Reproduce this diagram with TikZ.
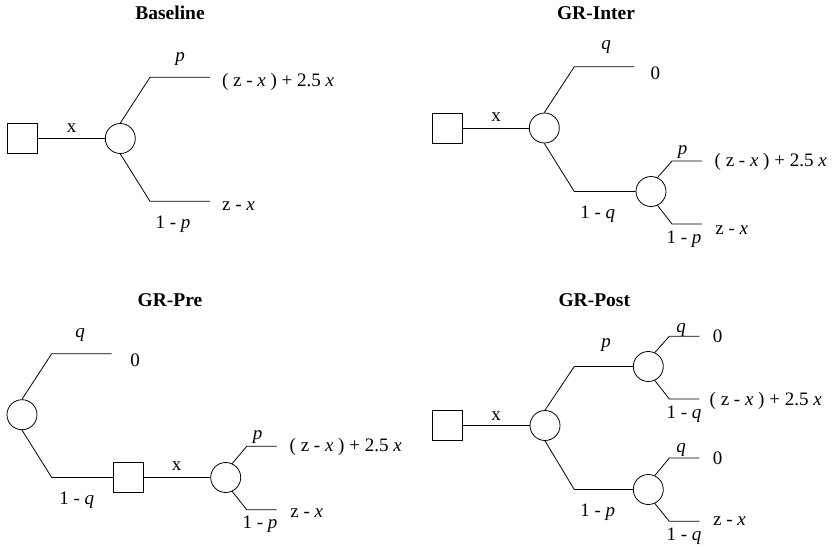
\documentclass[tikz,border=0pt]{standalone}
\usepackage{fontspec}
\setmainfont{Liberation Serif}
\begin{document}
\begin{tikzpicture}[x=1pt,y=-1pt,line width=0.8pt,
  dec/.style={draw,rectangle,minimum size=30pt,inner sep=0pt},
  chance/.style={draw,circle,minimum size=30pt,inner sep=0pt},
  lbl/.style={font=\fontsize{19}{22}\selectfont,inner sep=0pt},
  blbl/.style={lbl,anchor=base},
  pay/.style={lbl,anchor=west},
  ttl/.style={font=\bfseries\fontsize{19.5}{22}\selectfont,inner sep=0pt}]
\useasboundingbox (0,0) rectangle (832,546);
% ---------- Baseline ----------
\node[ttl] (tb) at (170,13) {Baseline};
\node[dec] (b0) at (22.5,138.5) {};
\node[chance] (b1) at (120.3,138.5) {};
\coordinate (bu) at (150,77.3); \coordinate (bue) at (210,77.3);
\coordinate (bl) at (150,201.3); \coordinate (ble) at (210,201.3);
\draw (b0) -- (b1);
\draw (b1.north) -- (bu) -- (bue);
\draw (b1.south) -- (bl) -- (ble);
\node[lbl] (bx) at (71.7,127.7) {x};
\node[lbl] (bp) at (180,59.3) {\textit{p}};
\node[blbl] (bnp) at (173,228.3) {1 - \textit{p}};
\node[pay] (bpay1) at (221.7,81.7) {( z - \textit{x} ) + 2.5 \textit{x}};
\node[pay] (bpay2) at (221.7,206) {z - \textit{x}};
% ---------- GR-Inter ----------
\node[ttl] (ti) at (596,13) {GR-Inter};
\node[dec] (i0) at (447.7,128) {};
\node[chance] (i1) at (544.3,128) {};
\node[chance] (i2) at (651,191.5) {};
\coordinate (iu) at (574.3,66.7); \coordinate (iue) at (634.3,66.7);
\coordinate (il) at (574.3,191.5);
\coordinate (i2u) at (672,161); \coordinate (i2ue) at (702,161);
\coordinate (i2l) at (672,224); \coordinate (i2le) at (702,224);
\draw (i0) -- (i1);
\draw (i1.north) -- (iu) -- (iue);
\draw (i1.south) -- (il) -- (i2);
\draw (i2.65) -- (i2u) -- (i2ue);
\draw (i2.-65) -- (i2l) -- (i2le);
\node[lbl] (ix) at (496,116.7) {x};
\node[lbl] (iq) at (606,46.7) {\textit{q}};
\node[lbl] (i0v) at (655.3,73.3) {0};
\node[blbl] (inq) at (597.7,218.5) {1 - \textit{q}};
\node[lbl] (ip) at (682.7,151.7) {\textit{p}};
\node[blbl] (inp) at (684,243) {1 - \textit{p}};
\node[pay] (ipay1) at (714.3,161.7) {( z - \textit{x} ) + 2.5 \textit{x}};
\node[pay] (ipay2) at (715,230) {z - \textit{x}};
% ---------- GR-Pre ----------
\node[ttl] (tr) at (170,299.7) {GR-Pre};
\node[chance] (r1) at (22,414.7) {};
\node[dec] (r0) at (128.7,477.5) {};
\node[chance] (r2) at (225.7,477.5) {};
\coordinate (ru) at (51.7,353.7); \coordinate (rue) at (111.7,353.7);
\coordinate (rl) at (51.7,477.5);
\coordinate (r2u) at (246.7,446.3); \coordinate (r2ue) at (276.7,446.3);
\coordinate (r2l) at (246.7,509.7); \coordinate (r2le) at (276.7,509.7);
\draw (r1.north) -- (ru) -- (rue);
\draw (r1.south) -- (rl) -- (r0);
\draw (r0) -- (r2);
\draw (r2.65) -- (r2u) -- (r2ue);
\draw (r2.-65) -- (r2l) -- (r2le);
\node[lbl] (rq) at (80,334.7) {\textit{q}};
\node[lbl] (r0v) at (135,360.3) {0};
\node[blbl] (rnq) at (76.7,504.5) {1 - \textit{q}};
\node[lbl] (rx) at (176.7,466.3) {x};
\node[lbl] (rp) at (257.7,437.3) {\textit{p}};
\node[blbl] (rnp) at (260,528.7) {1 - \textit{p}};
\node[pay] (rpay1) at (289.3,447) {( z - \textit{x} ) + 2.5 \textit{x}};
\node[pay] (rpay2) at (290,513) {z - \textit{x}};
% ---------- GR-Post ----------
\node[ttl] (tp) at (594.3,299.7) {GR-Post};
\node[dec] (p0) at (447,425.5) {};
\node[chance] (p1) at (545,425.5) {};
\node[chance] (p2) at (648.3,366.5) {};
\node[chance] (p3) at (648.3,489.5) {};
\coordinate (pu) at (574.3,366.5);
\coordinate (pl) at (574.3,489.5);
\coordinate (p2u) at (669.3,336.3); \coordinate (p2ue) at (699.3,336.3);
\coordinate (p2l) at (669.3,399); \coordinate (p2le) at (699.3,399);
\coordinate (p3u) at (669.3,458); \coordinate (p3ue) at (699.3,458);
\coordinate (p3l) at (669.3,521.3); \coordinate (p3le) at (699.3,521.3);
\draw (p0) -- (p1);
\draw (p1.north) -- (pu) -- (p2);
\draw (p1.south) -- (pl) -- (p3);
\draw (p2.65) -- (p2u) -- (p2ue);
\draw (p2.-65) -- (p2l) -- (p2le);
\draw (p3.65) -- (p3u) -- (p3ue);
\draw (p3.-65) -- (p3l) -- (p3le);
\node[lbl] (px) at (496,416.3) {x};
\node[lbl] (pp) at (606,344.7) {\textit{p}};
\node[blbl] (pnp) at (597.7,516.5) {1 - \textit{p}};
\node[lbl] (pq1) at (681,329.7) {\textit{q}};
\node[lbl] (p0v1) at (717.7,336.3) {0};
\node[blbl] (pnq1) at (684,418) {1 - \textit{q}};
\node[pay] (ppay1) at (709.3,401.3) {( z - \textit{x} ) + 2.5 \textit{x}};
\node[lbl] (pq2) at (681,449.7) {\textit{q}};
\node[lbl] (p0v2) at (717.7,458) {0};
\node[blbl] (pnq2) at (684,540.3) {1 - \textit{q}};
\node[pay] (ppay2) at (712.7,521.3) {z - \textit{x}};
\end{tikzpicture}
\end{document}
